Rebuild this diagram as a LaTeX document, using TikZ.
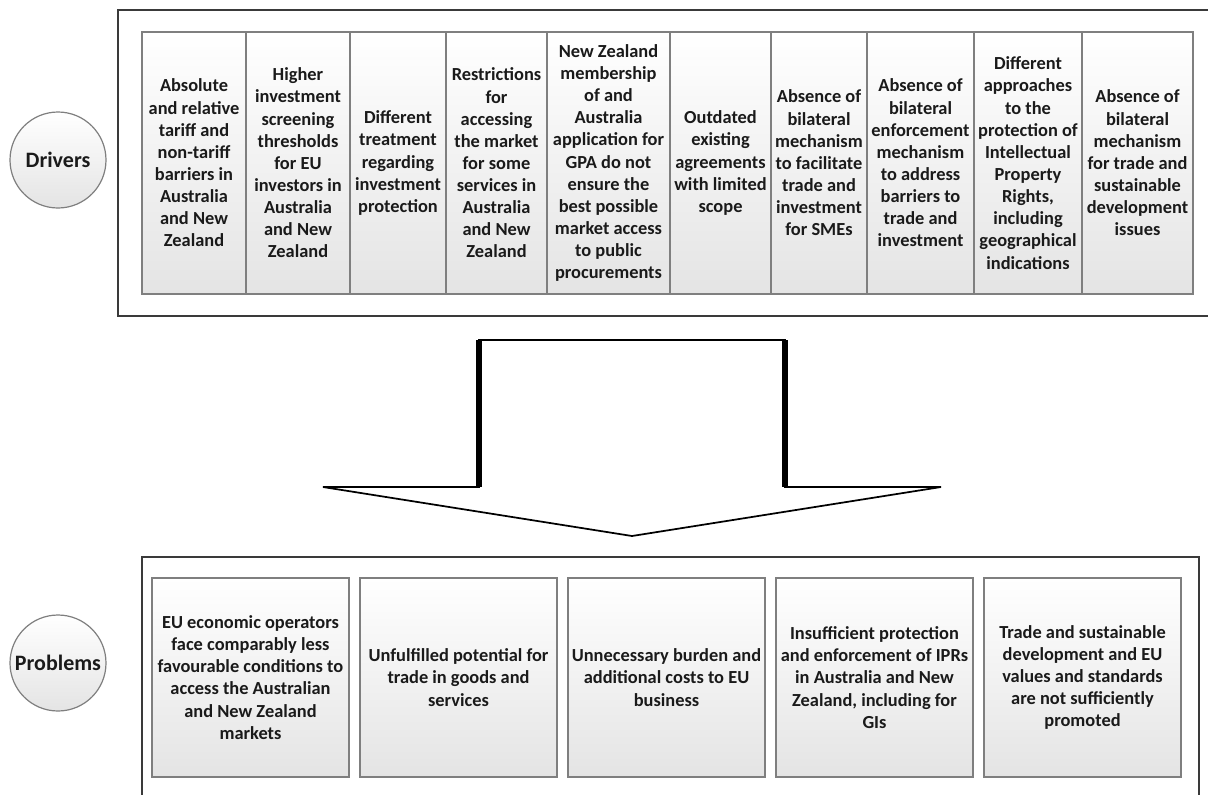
\documentclass[tikz,border=0pt]{standalone}
\usepackage{fontspec}
\setmainfont{Carlito}
\definecolor{frameGrey}{HTML}{3A3A3A}
\definecolor{cellGrey}{HTML}{E4E4E4}
\definecolor{cellLine}{HTML}{7F7F7F}
\definecolor{txtDark}{HTML}{1A1A1A}
\usetikzlibrary{positioning,calc}
\tikzset{
 cell/.style={draw=cellLine, line width=0.9pt, top color=white, bottom color=cellGrey, align=center, text=txtDark, inner sep=0pt, font=\fontsize{13.8}{16.6}\selectfont\bfseries},
 lblcirc/.style={circle, draw=cellLine, line width=0.9pt, top color=white, bottom color=cellGrey, minimum size=72pt, inner sep=0pt, text=txtDark, font=\fontsize{16.5}{19}\selectfont\bfseries},
 outerbox/.style={draw=frameGrey, line width=2.2pt},
 bigarrow/.style={draw=black, line width=1.3pt, fill=white, line join=miter},
}
% one driver column, from left edge #1 to right edge #2 (px)
\newcommand{\dcell}[4]{%
 \node[cell, minimum width={(#2-#1)*0.75pt}, minimum height=196.5pt] (#3) at ({(#1+#2)/2},163) {#4};}
% one problem box, centred at #1 (px)
\newcommand{\pcell}[3]{%
 \node[cell, minimum width=147.75pt, minimum height=149.25pt] (#2) at (#1,677.5) {#3};}

\begin{document}
\begin{tikzpicture}[x=0.75pt, y=-0.75pt]
\useasboundingbox (0,0) rectangle (1208,794);
\clip (0,0) rectangle (1208,794);
\fill[white] (0,0) rectangle (1208,794);

% frames
\draw[outerbox] (118,10) rectangle (1215,316);
\draw[outerbox] (142,557) rectangle (1199,810);

% labels
\node[lblcirc] (drivers) at (58,160) {Drivers};
\node[lblcirc] (problems) at (58,663) {Problems};

% drivers
\dcell{142}{246}{d1}{Absolute\\and relative\\tariff and\\non-tariff\\barriers in\\Australia\\and New\\Zealand}
\dcell{246}{350}{d2}{Higher\\investment\\screening\\thresholds\\for EU\\investors in\\Australia\\and New\\Zealand}
\dcell{350}{446}{d3}{Different\\treatment\\regarding\\investment\\protection}
\dcell{446}{547}{d4}{Restrictions\\for\\accessing\\the market\\for some\\services in\\Australia\\and New\\Zealand}
\dcell{547}{670}{d5}{New Zealand\\membership\\of and\\Australia\\application for\\GPA do not\\ensure the\\best possible\\market access\\to public\\procurements}
\dcell{670}{771}{d6}{Outdated\\existing\\agreements\\with limited\\scope}
\dcell{771}{867}{d7}{Absence of\\bilateral\\mechanism\\to facilitate\\trade and\\investment\\for SMEs}
\dcell{867}{974}{d8}{Absence of\\bilateral\\enforcement\\mechanism\\to address\\barriers to\\trade and\\investment}
\dcell{974}{1082}{d9}{Different\\approaches\\to the\\protection of\\Intellectual\\Property\\Rights,\\including\\geographical\\indications}
\dcell{1082}{1193}{d10}{Absence of\\bilateral\\mechanism\\for trade and\\sustainable\\development\\issues}

% problems
\pcell{250.5}{p1}{EU economic operators\\face comparably less\\favourable conditions to\\access the Australian\\and New Zealand\\markets}
\pcell{458.5}{p2}{Unfulfilled potential for\\trade in goods and\\services}
\pcell{666.5}{p3}{Unnecessary burden and\\additional costs to EU\\business}
\pcell{874.5}{p4}{Insufficient protection\\and enforcement of IPRs\\in Australia and New\\Zealand, including for\\GIs}
\pcell{1082.5}{p5}{Trade and sustainable\\development and EU\\values and standards\\are not sufficiently\\promoted}

% big arrow drivers -> problems
\coordinate (stemL) at (479,340);
\coordinate (stemR) at (785,340);
\coordinate (tip) at (632,536);
\draw[bigarrow] (stemL) -- (stemR) -- (stemR |- 0,487) -- (941,487) -- (tip)
 -- (323,487) -- (stemL |- 0,487) -- cycle;
\draw[line width=4.5pt] (stemL) -- (stemL |- 0,487);
\draw[line width=4.5pt] (stemR) -- (stemR |- 0,487);
\end{tikzpicture}
\end{document}
